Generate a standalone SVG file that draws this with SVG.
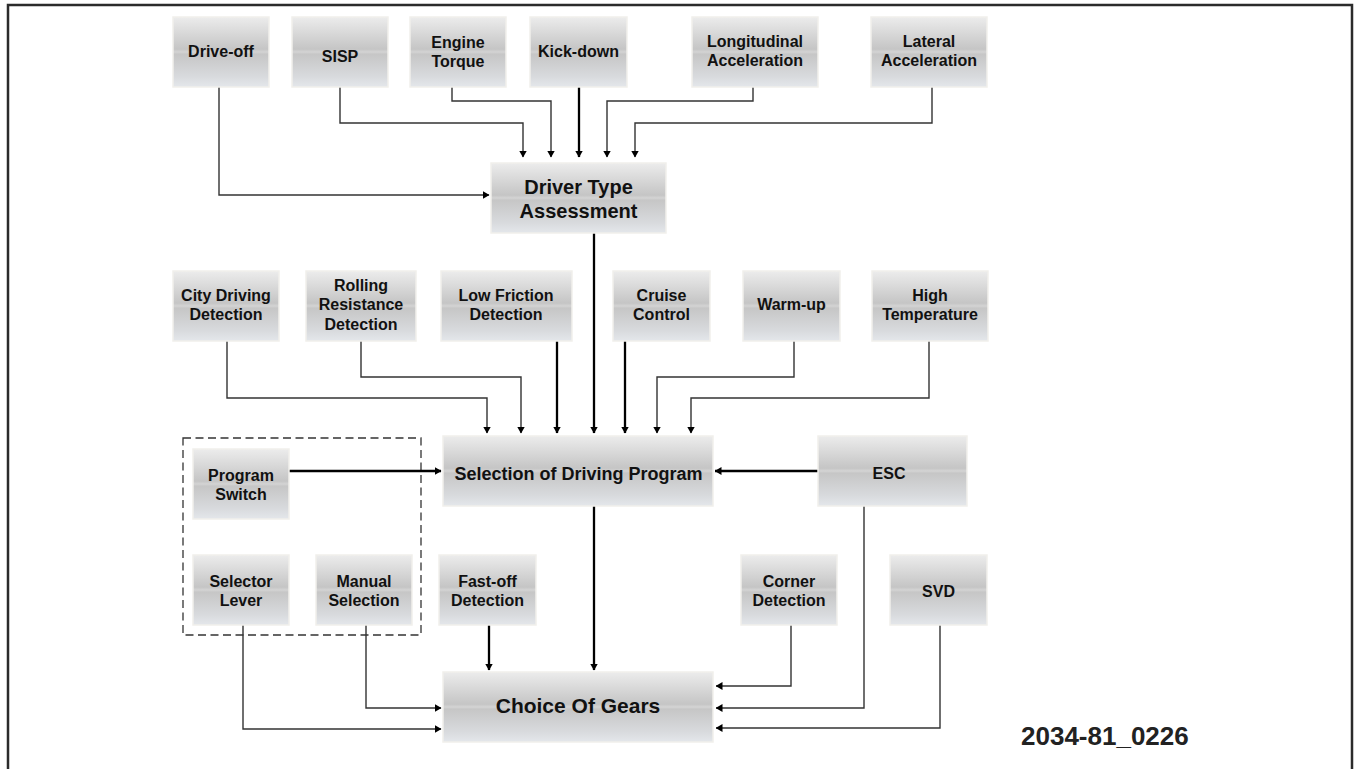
<svg xmlns="http://www.w3.org/2000/svg" width="1357" height="769" viewBox="0 0 1357 769">
<defs>
<linearGradient id="g" x1="0" y1="0" x2="0" y2="1">
<stop offset="0" stop-color="#ececec"/>
<stop offset="0.46" stop-color="#c5c5c5"/>
<stop offset="0.5" stop-color="#d4d4d4"/>
<stop offset="0.53" stop-color="#c6c6c6"/>
<stop offset="0.85" stop-color="#d8dadd"/>
<stop offset="1" stop-color="#e4e7eb"/>
</linearGradient>
<marker id="ah" markerUnits="userSpaceOnUse" markerWidth="7" markerHeight="8" refX="6.5" refY="4" orient="auto">
<path d="M0,0 L7,4 L0,8 z" fill="#000"/>
</marker>
</defs>
<style>
.box{fill:url(#g);stroke:#f1efeb;stroke-width:1.5}
.t{font-family:"Liberation Sans",Arial,sans-serif;font-weight:bold;font-size:16px;fill:#111;text-anchor:middle}
.tl{font-size:20px}
.ts{font-size:18px}
.tg{font-size:21px}
.c{fill:none;stroke:#333;stroke-width:1.4;marker-end:url(#ah)}
.k{fill:none;stroke:#000;stroke-width:2.3;marker-end:url(#ah)}
.cn{fill:none;stroke:#333;stroke-width:1.4}
</style>
<rect width="1357" height="769" fill="#fff"/>
<path d="M8,769 V5 H1352 V769" fill="none" stroke="#2b2b2b" stroke-width="2.5"/>

<rect x="183" y="438" width="238" height="197" fill="none" stroke="#333" stroke-width="1.3" stroke-dasharray="8,4.5"/>

<g id="connectors">
<path class="c" d="M219,87 V195 H489"/>
<path class="c" d="M340,87 V123 H523 V157"/>
<path class="c" d="M452,87 V101 H551 V157"/>
<path class="k" d="M579,87 V157"/>
<path class="c" d="M753,87 V101 H607 V157"/>
<path class="c" d="M932,87 V123 H635 V157"/>
<path class="k" d="M594,233 V433"/>
<path class="c" d="M227,341 V398 H487 V433"/>
<path class="c" d="M361,341 V377 H521 V433"/>
<path class="k" d="M557,341 V433"/>
<path class="k" d="M625,341 V433"/>
<path class="c" d="M794,341 V377 H657 V433"/>
<path class="c" d="M929,341 V398 H691 V433"/>
<path class="k" d="M289,471 H441"/>
<path class="k" d="M818,471 H715"/>
<path class="k" d="M594,506 V670"/>
<path class="k" d="M489,625 V670"/>
<path class="c" d="M366,625 V708 H441"/>
<path class="c" d="M243,625 V729 H441"/>
<path class="c" d="M791,625 V686 H716"/>
<path class="c" d="M864,506 V708 H716"/>
<path class="c" d="M940,625 V728 H716"/>
</g>

<g id="drive-off"><rect class="box" x="173" y="17" width="96" height="70"/><text class="t" x="221" y="57">Drive-off</text></g>
<g id="sisp"><rect class="box" x="292" y="17" width="96" height="70"/><text class="t" x="340" y="62">SISP</text></g>
<g id="engine-torque"><rect class="box" x="410" y="17" width="96" height="70"/><text class="t" x="458" y="48">Engine</text><text class="t" x="458" y="67">Torque</text></g>
<g id="kick-down"><rect class="box" x="530" y="17" width="97" height="70"/><text class="t" x="578.5" y="57">Kick-down</text></g>
<g id="longitudinal"><rect class="box" x="692" y="17" width="126" height="70"/><text class="t" x="755" y="47">Longitudinal</text><text class="t" x="755" y="66">Acceleration</text></g>
<g id="lateral"><rect class="box" x="871" y="17" width="116" height="70"/><text class="t" x="929" y="47">Lateral</text><text class="t" x="929" y="66">Acceleration</text></g>

<g id="driver-type"><rect class="box" x="491" y="163" width="175" height="70"/><text class="t tl" x="578.5" y="194">Driver Type</text><text class="t tl" x="578.5" y="218">Assessment</text></g>

<g id="city-driving"><rect class="box" x="173" y="271" width="106" height="70"/><text class="t" x="226" y="301">City Driving</text><text class="t" x="226" y="320">Detection</text></g>
<g id="rolling"><rect class="box" x="306" y="271" width="110" height="70"/><text class="t" x="361" y="291">Rolling</text><text class="t" x="361" y="310">Resistance</text><text class="t" x="361" y="330">Detection</text></g>
<g id="low-friction"><rect class="box" x="441" y="271" width="131" height="70"/><text class="t" x="506" y="301">Low Friction</text><text class="t" x="506" y="320">Detection</text></g>
<g id="cruise"><rect class="box" x="613" y="271" width="97" height="70"/><text class="t" x="661.5" y="301">Cruise</text><text class="t" x="661.5" y="320">Control</text></g>
<g id="warm-up"><rect class="box" x="743" y="271" width="97" height="70"/><text class="t" x="791.5" y="310">Warm-up</text></g>
<g id="high-temp"><rect class="box" x="872" y="271" width="116" height="70"/><text class="t" x="930" y="301">High</text><text class="t" x="930" y="320">Temperature</text></g>

<g id="selection"><rect class="box" x="443" y="436" width="270" height="70"/><text class="t ts" x="578.5" y="480">Selection of Driving Program</text></g>
<g id="esc"><rect class="box" x="818" y="436" width="149" height="70"/><text class="t" x="889" y="479">ESC</text></g>

<g id="program-switch"><rect class="box" x="193" y="449" width="96" height="70"/><text class="t" x="241" y="481">Program</text><text class="t" x="241" y="500">Switch</text></g>
<g id="selector-lever"><rect class="box" x="193" y="555" width="96" height="70"/><text class="t" x="241" y="587">Selector</text><text class="t" x="241" y="606">Lever</text></g>
<g id="manual-selection"><rect class="box" x="316" y="555" width="96" height="70"/><text class="t" x="364" y="587">Manual</text><text class="t" x="364" y="606">Selection</text></g>
<g id="fast-off"><rect class="box" x="439" y="555" width="97" height="70"/><text class="t" x="487.5" y="587">Fast-off</text><text class="t" x="487.5" y="606">Detection</text></g>
<g id="corner"><rect class="box" x="741" y="555" width="96" height="70"/><text class="t" x="789" y="587">Corner</text><text class="t" x="789" y="606">Detection</text></g>
<g id="svd"><rect class="box" x="890" y="555" width="97" height="70"/><text class="t" x="938.5" y="597">SVD</text></g>

<g id="choice"><rect class="box" x="443" y="672" width="270" height="70"/><text class="t tg" x="578" y="713">Choice Of Gears</text></g>

<text x="1021" y="745" font-family="Liberation Sans, Arial, sans-serif" font-weight="bold" font-size="26" fill="#222">2034-81_0226</text>
</svg>
